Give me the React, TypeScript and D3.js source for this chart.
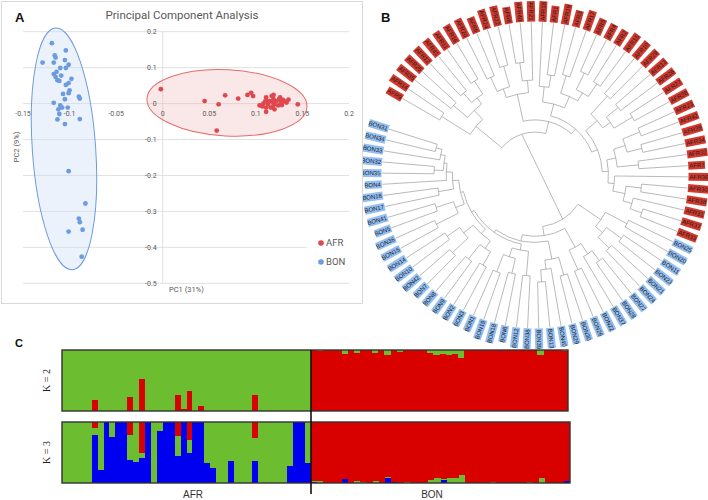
import React from "react";
import * as d3 from "d3";

// ---------- Panel A: PCA ----------
const pcXTicks = [-0.15, -0.1, -0.05, 0, 0.05, 0.1, 0.15, 0.2];
const pcYTicks = [0.2, 0.1, 0, -0.1, -0.2, -0.3, -0.4, -0.5];

const afrPC1 = [-0.002, 0.045, 0.06, 0.067, 0.081, 0.091, 0.095, 0.097, 0.058, 0.145, 0.104, 0.107, 0.11, 0.111, 0.113, 0.115, 0.117, 0.119, 0.111, 0.111, 0.116, 0.12, 0.122, 0.125, 0.127, 0.124, 0.12, 0.126, 0.129, 0.133, 0.135, 0.118, 0.119, 0.128, 0.108, 0.131, 0.112, 0.118];
const afrPC2 = [0.04, 0.007, -0.002, 0.023, 0.014, 0.024, 0.03, 0.021, -0.075, -0.002, -0.005, -0.008, 0.006, 0.017, -0.002, 0.007, 0.021, 0.012, -0.011, -0.023, -0.011, -0.002, 0.007, 0.012, 0.003, -0.005, -0.016, 0.017, 0.01, 0.003, 0.011, 0.003, 0.024, -0.004, 0.0, 0.006, 0.007, -0.009];

const bonPC1 = [-0.119, -0.129, -0.117, -0.116, -0.115, -0.104, -0.105, -0.101, -0.104, -0.11, -0.117, -0.114, -0.115, -0.109, -0.113, -0.111, -0.098, -0.101, -0.104, -0.1, -0.107, -0.101, -0.105, -0.09, -0.089, -0.117, -0.11, -0.108, -0.112, -0.102, -0.111, -0.089, -0.113, -0.105, -0.101, -0.083, -0.09, -0.089, -0.101, -0.086, -0.087];
const bonPC2 = [0.168, 0.114, 0.114, 0.134, 0.128, 0.148, 0.121, 0.108, 0.099, 0.099, 0.082, 0.088, 0.074, 0.078, 0.065, 0.063, 0.069, 0.057, 0.052, 0.037, 0.027, 0.029, 0.012, 0.019, 0.014, 0.002, -0.005, -0.011, -0.016, -0.011, -0.029, -0.043, -0.044, -0.057, -0.188, -0.278, -0.32, -0.33, -0.356, -0.351, -0.426];

// confidence ellipses (data units)
const afrEllipse = { cx: 0.069, cy: 0.002, rx: 0.086, ry: 0.092, rot: 3 };
const bonEllipse = { cx: -0.106, cy: -0.126, rx: 0.034, ry: 0.337, rot: -4 };

// ---------- Panel B: tree (newick pieces, branch lengths in % of tip radius) ----------
const cladeL = "((AFR9,AFR14):22,((AFR35,AFR25):12,((AFR12,AFR41):8,(AFR11,AFR16):10):5):8):22";
const cladeT1 = "(((AFR20,AFR6):10,(AFR24,AFR22):14):6,((AFR8,AFR40):12,AFR21):8):18";
const cladeT2 = "((AFR18,(AFR1,AFR19):8):10,((AFR3,AFR17):12,((AFR5,AFR4):12,(AFR2,AFR15):10):6):8):8";
const cladeR1 = "((AFR10,AFR29):16,((AFR13,AFR26):10,(AFR27,AFR28):14):6):10";
const cladeR2 = "(((AFR23,AFR42):12,(AFR39,AFR34):10):8,(AFR32,AFR7):14):6";
const cladeR3 = "(AFR36,((AFR30,AFR38):10,(AFR31,(AFR37,AFR33):8):6):8):4";
const cladeB1 = "((BON25,BON20):16,((BON11,BON23):12,(BON21,BON24):10):6):18";
const cladeB2 = "(((BON27,BON28):8,BON37):8,(BON22,BON26):14):14";
const cladeB3 = "((BON30,BON29):12,(BON40,(BON13,BON39):8):6):12";
const cladeB4 = "((BON38,BON12):16,((BON6,BON18):10,(BON19,BON1):12):6):4";
const cladeB5 = "(((BON3,BON2):10,(BON9,BON8):12):6,((BON7,BON42):14,(BON10,BON14):10):8):4";
const cladeB6 = "((BON15,BON36):16,(BON5,BON41):12):6";
const cladeB7 = "((BON17,BON16):10,(BON4,((BON35,BON32):6,(BON33,(BON34,BON31):4):3):2):4):4";

const afrClade = `(${cladeL},(${cladeT1},(${cladeT2},(${cladeR1},(${cladeR2},${cladeR3}):4):4):4):8):28`;
const bonClade = `(${cladeB1},(${cladeB2},(${cladeB3},(${cladeB4},(${cladeB5},(${cladeB6},${cladeB7}):2):2):2):4):6):34`;
const treeNewick = `(${afrClade},${bonClade});`;

// ---------- Panel C: admixture proportions ----------
const afrK2Red = [0, 0, 0, 0, 0, 0.18, 0, 0, 0, 0, 0, 0.23, 0, 0.53, 0, 0, 0, 0, 0, 0.26, 0.04, 0.32, 0, 0.08, 0, 0, 0, 0, 0, 0, 0, 0, 0.27, 0, 0, 0, 0, 0, 0, 0, 0, 0];
const bonK2Green = [0, 0.02, 0, 0, 0, 0.07, 0, 0.045, 0, 0, 0.045, 0, 0.09, 0, 0.03, 0, 0, 0, 0, 0.055, 0.09, 0.065, 0.09, 0.065, 0.126, 0, 0, 0, 0, 0, 0, 0, 0, 0, 0, 0, 0, 0.09, 0, 0, 0, 0.02];
const afrK3Blue = [0, 0, 0, 0, 0, 0.79, 0.22, 1, 0.75, 1, 1, 0.37, 0.34, 0.41, 1, 0, 0.85, 1, 1, 0.44, 1, 0.5, 1, 1, 0.32, 0.24, 0, 0, 0.36, 0, 0, 0, 0.36, 0, 0, 0, 0, 0, 0.28, 1, 1, 0.33];
const afrK3Red = [0, 0, 0, 0, 0, 0.1, 0, 0, 0, 0, 0, 0.21, 0, 0.5, 0, 0, 0, 0, 0, 0.23, 0, 0.29, 0, 0, 0, 0, 0, 0, 0, 0, 0, 0, 0.26, 0, 0, 0, 0, 0, 0, 0, 0, 0];
const bonK3Blue = [0.02, 0, 0, 0, 0, 0.07, 0, 0, 0, 0, 0, 0, 0.08, 0.02, 0, 0, 0, 0, 0, 0, 0, 0.05, 0, 0, 0, 0, 0, 0, 0, 0, 0, 0, 0, 0, 0, 0, 0, 0, 0, 0, 0, 0.03];
const bonK3Green = [0.01, 0.03, 0, 0, 0, 0, 0, 0.04, 0.02, 0, 0.04, 0, 0.02, 0, 0, 0.02, 0, 0, 0, 0.05, 0.09, 0.02, 0.09, 0.09, 0.13, 0, 0, 0, 0, 0.02, 0, 0, 0, 0, 0, 0.02, 0, 0.09, 0, 0, 0, 0];

const RED = "#e0474d";
const BLUE = "#6c9bdf";
const GRID = "#d9d9d9";
const TXT = "#595959";
const Q_GREEN = "#6cbd30";
const Q_RED = "#d90000";
const Q_BLUE = "#0000f0";

interface TNode {
  name: string;
  len: number;
  children: TNode[];
}

function parseNewick(s: string): TNode {
  let i = 0;
  const node = (): TNode => {
    const n: TNode = { name: "", len: 0, children: [] };
    if (s[i] === "(") {
      i++;
      n.children.push(node());
      while (s[i] === ",") {
        i++;
        n.children.push(node());
      }
      i++;
    }
    let name = "";
    while (i < s.length && !",():;".includes(s[i])) name += s[i++];
    n.name = name.trim();
    if (s[i] === ":") {
      i++;
      let num = "";
      while (i < s.length && !",();".includes(s[i])) num += s[i++];
      n.len = +num;
    }
    return n;
  };
  return node();
}

const PCA: React.FC = () => {
  const x = d3.scaleLinear().domain([-0.15, 0.2]).range([23, 349]);
  const y = d3.scaleLinear().domain([-0.5, 0.2]).range([283.3, 31.7]);
  const ell = (e: typeof afrEllipse, fill: string, stroke: string) => (
    <ellipse
      cx={x(e.cx)}
      cy={y(e.cy)}
      rx={x(e.cx + e.rx) - x(e.cx)}
      ry={y(e.cy) - y(e.cy + e.ry)}
      transform={`rotate(${e.rot},${x(e.cx)},${y(e.cy)})`}
      fill={fill}
      stroke={stroke}
      strokeWidth={1}
    />
  );
  return (
    <g fontFamily="Roboto, 'Liberation Sans', sans-serif">
      <rect x={1.5} y={1.5} width={361} height={302} fill="#fff" stroke={GRID} />
      <text x={15} y={22} fontSize={13} fontWeight="bold" fontFamily="'Liberation Sans', Arial" fill="#111">A</text>
      <text x={182} y={19} textAnchor="middle" fontSize={11.5} fill={TXT}>Principal Component Analysis</text>
      {pcYTicks.map((t) => (
        <line key={t} x1={x(-0.15)} x2={x(0.2)} y1={y(t)} y2={y(t)} stroke={GRID} strokeWidth={0.8} />
      ))}
      <line x1={x(0)} x2={x(0)} y1={y(0.2)} y2={y(-0.5)} stroke={GRID} strokeWidth={0.8} />
      {ell(bonEllipse, "rgba(205,222,246,0.4)", BLUE)}
      {ell(afrEllipse, "rgba(240,180,180,0.3)", "#e46c6c")}
      {pcYTicks.map((t) => (
        <text key={t} x={x(0) - 6} y={y(t)} dy="0.35em" textAnchor="end" fontSize={7} fill={TXT}>
          {t === 0 ? "0" : String(t)}
        </text>
      ))}
      {pcXTicks.map((t) => (
        <text key={t} x={x(t)} y={y(0) + 9.5} dy="0.35em" textAnchor="middle" fontSize={7} fill={TXT}>
          {t === 0 ? "0" : String(t)}
        </text>
      ))}
      {bonPC1.map((v, i) => (
        <circle key={"b" + i} cx={x(v)} cy={y(bonPC2[i])} r={2.4} fill={BLUE} />
      ))}
      {afrPC1.map((v, i) => (
        <circle key={"a" + i} cx={x(v)} cy={y(afrPC2[i])} r={2.4} fill={RED} />
      ))}
      <text x={169} y={292} fontSize={7.5} fill={TXT}>PC1 (31%)</text>
      <text transform={`translate(19,147) rotate(-90)`} textAnchor="middle" fontSize={7.5} fill={TXT}>PC2 (9%)</text>
      <rect x={307} y={234} width={48} height={38} fill="#fff" />
      <circle cx={321} cy={243} r={2.8} fill={RED} />
      <text x={326} y={243} dy="0.35em" fontSize={9.5} fill={TXT}>AFR</text>
      <circle cx={321} cy={262} r={2.8} fill={BLUE} />
      <text x={326} y={262} dy="0.35em" fontSize={9.5} fill={TXT}>BON</text>
    </g>
  );
};

const Tree: React.FC = () => {
  const cx = 535;
  const cy = 175;
  const rScale = d3.scaleLinear().domain([0, 100]).range([0, 153]);
  const aScale = d3.scaleLinear().domain([0, 86]).range([-60, 300]);
  const root: any = d3.hierarchy(parseNewick(treeNewick), (d) => (d.children.length ? d.children : null));
  root.eachBefore((n: any) => {
    n.rr = n.parent ? n.parent.rr + n.data.len : 0;
  });
  const leaves = root.leaves();
  leaves.forEach((l: any, i: number) => {
    l.ang = aScale(i);
    l.rr = 100;
  });
  root.eachAfter((n: any) => {
    if (n.children) n.ang = (n.children[0].ang + n.children[n.children.length - 1].ang) / 2;
  });
  const pt = (r: number, a: number) => {
    const t = (a * Math.PI) / 180;
    return [cx + rScale(r) * Math.sin(t), cy - rScale(r) * Math.cos(t)];
  };
  const segs: string[] = [];
  root.each((n: any) => {
    if (n.parent && n.parent.parent) {
      const p0 = pt(n.parent.rr, n.ang);
      const p1 = pt(n.rr, n.ang);
      segs.push(`M${p0[0]},${p0[1]}L${p1[0]},${p1[1]}`);
    }
    if (n.children && n.rr > 0) {
      const a0 = n.children[0].ang;
      const a1 = n.children[n.children.length - 1].ang;
      const p0 = pt(n.rr, a0);
      const p1 = pt(n.rr, a1);
      const r = rScale(n.rr);
      segs.push(`M${p0[0]},${p0[1]}A${r},${r} 0 ${a1 - a0 > 180 ? 1 : 0} 1 ${p1[0]},${p1[1]}`);
    }
  });
  // root branch joins the two clades as one straight line
  const [ca, cb] = root.children;
  const pa = pt(ca.rr, ca.ang);
  const pb = pt(cb.rr, cb.ang);
  segs.push(`M${pa[0]},${pa[1]}L${pb[0]},${pb[1]}`);

  const r0 = rScale(100) + 0.5;
  return (
    <g>
      <text x={381} y={22} fontSize={13} fontWeight="bold" fontFamily="'Liberation Sans', Arial" fill="#111">B</text>
      <path d={segs.join("")} fill="none" stroke="#8a8a8a" strokeWidth={0.6} />
      {leaves.map((l: any) => {
        const name: string = l.data.name;
        const isAfr = name.startsWith("AFR");
        const a = ((l.ang % 360) + 360) % 360;
        const left = a > 180;
        const w = name.length * 3.7 + 2;
        return (
          <g key={name} transform={`translate(${cx},${cy}) rotate(${l.ang - 90})${left ? " rotate(180)" : ""}`}>
            <rect x={left ? -(r0 + w) : r0} y={-4} width={w} height={8} fill={isAfr ? "#d23a2f" : "#94bff2"} />
            <text
              x={left ? -(r0 + 1) : r0 + 1}
              y={0}
              dy="0.35em"
              textAnchor={left ? "end" : "start"}
              fontSize={6}
              fontFamily="'Liberation Sans', Arial"
              fill="#1a1a1a"
            >
              {name}
            </text>
          </g>
        );
      })}
    </g>
  );
};

const Structure: React.FC = () => {
  const idx = d3.range(42);
  const xAfr = d3.scaleBand<number>().domain(idx).range([62, 311]);
  const xBon2 = d3.scaleBand<number>().domain(idx).range([311, 568]);
  const xBon3 = d3.scaleBand<number>().domain(idx).range([311, 570]);
  const y2 = d3.scaleLinear().domain([0, 1]).range([411, 350]);
  const y3 = d3.scaleLinear().domain([0, 1]).range([483, 422]);

  const stack = (
    key: string,
    xs: d3.ScaleBand<number>,
    ys: d3.ScaleLinear<number, number>,
    parts: { v: number[]; c: string }[]
  ) =>
    idx.map((i) => {
      let acc = 0;
      return parts.map((p, j) => {
        const lo = acc;
        acc += p.v[i];
        return (
          <rect
            key={`${key}${i}-${j}`}
            x={xs(i)}
            y={ys(acc)}
            width={xs.bandwidth() + (i < 41 ? 0.8 : 0)}
            height={Math.max(0, ys(lo) - ys(acc))}
            fill={p.c}
            shapeRendering="crispEdges"
          />
        );
      });
    });

  const rest = (n: number, ...parts: number[][]) =>
    d3.range(n).map((i) => 1 - parts.reduce((s, o) => s + o[i], 0));

  return (
    <g>
      <text x={15} y={347} fontSize={11} fontWeight="bold" fontFamily="'Liberation Sans', Arial" fill="#111">C</text>
      {stack("a2", xAfr, y2, [
        { v: afrK2Red, c: Q_RED },
        { v: rest(42, afrK2Red), c: Q_GREEN },
      ])}
      {stack("b2", xBon2, y2, [
        { v: rest(42, bonK2Green), c: Q_RED },
        { v: bonK2Green, c: Q_GREEN },
      ])}
      {stack("a3", xAfr, y3, [
        { v: afrK3Blue, c: Q_BLUE },
        { v: rest(42, afrK3Blue, afrK3Red), c: Q_GREEN },
        { v: afrK3Red, c: Q_RED },
      ])}
      {stack("b3", xBon3, y3, [
        { v: bonK3Blue, c: Q_BLUE },
        { v: bonK3Green, c: Q_GREEN },
        { v: rest(42, bonK3Blue, bonK3Green), c: Q_RED },
      ])}
      <rect x={62} y={350} width={506} height={61} fill="none" stroke="#333" strokeWidth={1.4} />
      <rect x={62} y={422} width={508} height={61} fill="none" stroke="#333" strokeWidth={1.4} />
      <line x1={311} x2={311} y1={350} y2={494} stroke="#111" strokeWidth={1.6} />
      <text transform="translate(50,380.5) rotate(-90)" textAnchor="middle" fontSize={10} fontFamily="'Liberation Serif', serif" fill="#222">K = 2</text>
      <text transform="translate(50,452.5) rotate(-90)" textAnchor="middle" fontSize={10} fontFamily="'Liberation Serif', serif" fill="#222">K = 3</text>
      <text x={193} y={498} textAnchor="middle" fontSize={10} fontFamily="'Liberation Sans', Arial" fill="#333">AFR</text>
      <text x={432} y={498} textAnchor="middle" fontSize={10} fontFamily="'Liberation Sans', Arial" fill="#333">BON</text>
    </g>
  );
};

export default function App() {
  return (
    <svg width={708} height={500} style={{ position: "absolute", left: 0, top: 0 }}>
      <rect width={708} height={500} fill="#fff" />
      <Tree />
      <PCA />
      <Structure />
    </svg>
  );
}
